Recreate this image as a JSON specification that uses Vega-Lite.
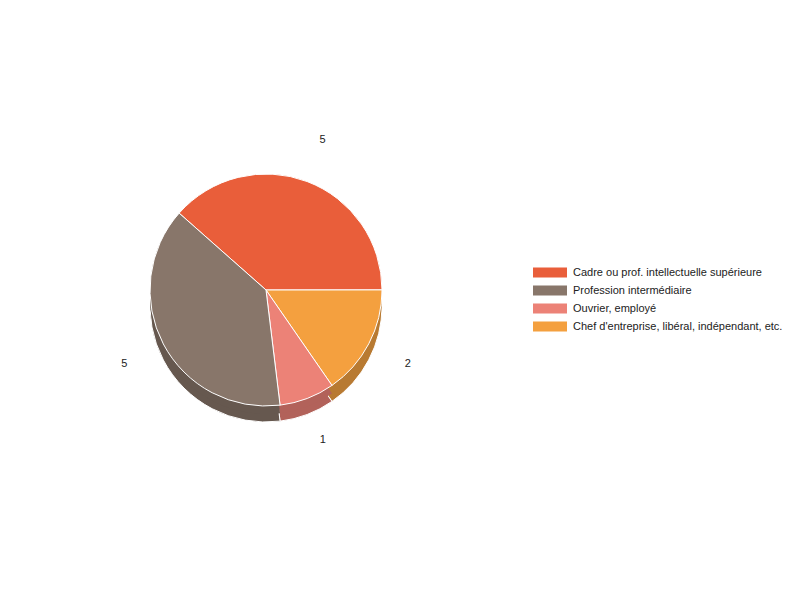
{
  "$schema": "https://vega.github.io/schema/vega-lite/v6.json",
  "autosize": "none",
  "width": 532,
  "height": 580,
  "padding": {"left": 0, "top": 0, "right": 268, "bottom": 20},
  "background": "white",
  "config": {
    "view": {"stroke": null},
    "font": "Liberation Sans",
    "text": {"font": "Liberation Sans", "fontSize": 11}
  },
  "data": {
    "values": [
      {"categorie": "Cadre ou prof. intellectuelle supérieure", "effectif": 5},
      {"categorie": "Chef d'entreprise, libéral, indépendant, etc.", "effectif": 2},
      {"categorie": "Ouvrier, employé", "effectif": 1},
      {"categorie": "Profession intermédiaire", "effectif": 5}
    ]
  },
  "encoding": {
    "theta": {
      "field": "effectif",
      "type": "quantitative",
      "stack": true,
      "scale": {"range": [-0.8465, 5.4367]}
    },
    "order": {"field": "categorie", "sort": "ascending"}
  },
  "layer": [
    {
      "mark": {"type": "arc", "outerRadius": 116, "yOffset": 16, "stroke": "white", "strokeWidth": 1},
      "encoding": {
        "color": {
          "field": "categorie",
          "type": "nominal",
          "scale": {
            "domain": ["Cadre ou prof. intellectuelle supérieure", "Profession intermédiaire", "Ouvrier, employé", "Chef d'entreprise, libéral, indépendant, etc."],
            "range": ["#ae4629", "#66584f", "#b2625a", "#b87a32"]
          },
          "legend": null
        }
      }
    },
    {
      "mark": {"type": "arc", "outerRadius": 116, "yOffset": 8},
      "encoding": {
        "color": {
          "field": "categorie",
          "type": "nominal",
          "scale": {
            "domain": ["Cadre ou prof. intellectuelle supérieure", "Profession intermédiaire", "Ouvrier, employé", "Chef d'entreprise, libéral, indépendant, etc."],
            "range": ["#ae4629", "#66584f", "#b2625a", "#b87a32"]
          },
          "legend": null
        }
      }
    },
    {
      "mark": {"type": "arc", "outerRadius": 116, "stroke": "white", "strokeWidth": 1},
      "encoding": {
        "color": {
          "field": "categorie",
          "type": "nominal",
          "scale": {
            "domain": ["Cadre ou prof. intellectuelle supérieure", "Profession intermédiaire", "Ouvrier, employé", "Chef d'entreprise, libéral, indépendant, etc."],
            "range": ["#e95e3a", "#88766a", "#ec8277", "#f4a03f"]
          },
          "legend": {
            "title": null,
            "orient": "none",
            "legendX": 541.5,
            "legendY": 264,
            "symbolType": "M-2,-0.6H2V0.6H-2Z",
            "symbolSize": 289,
            "symbolStrokeWidth": 0,
            "rowPadding": 4,
            "labelFont": "Liberation Sans",
            "labelFontSize": 11,
            "labelColor": "#222222",
            "labelOffset": 14.5,
            "labelLimit": 300
          }
        }
      }
    },
    {
      "mark": {"type": "text", "radius": 160, "color": "#222222", "fontSize": 11},
      "encoding": {
        "text": {"field": "effectif", "type": "quantitative"}
      }
    }
  ],
  "resolve": {"scale": {"color": "independent"}}
}
